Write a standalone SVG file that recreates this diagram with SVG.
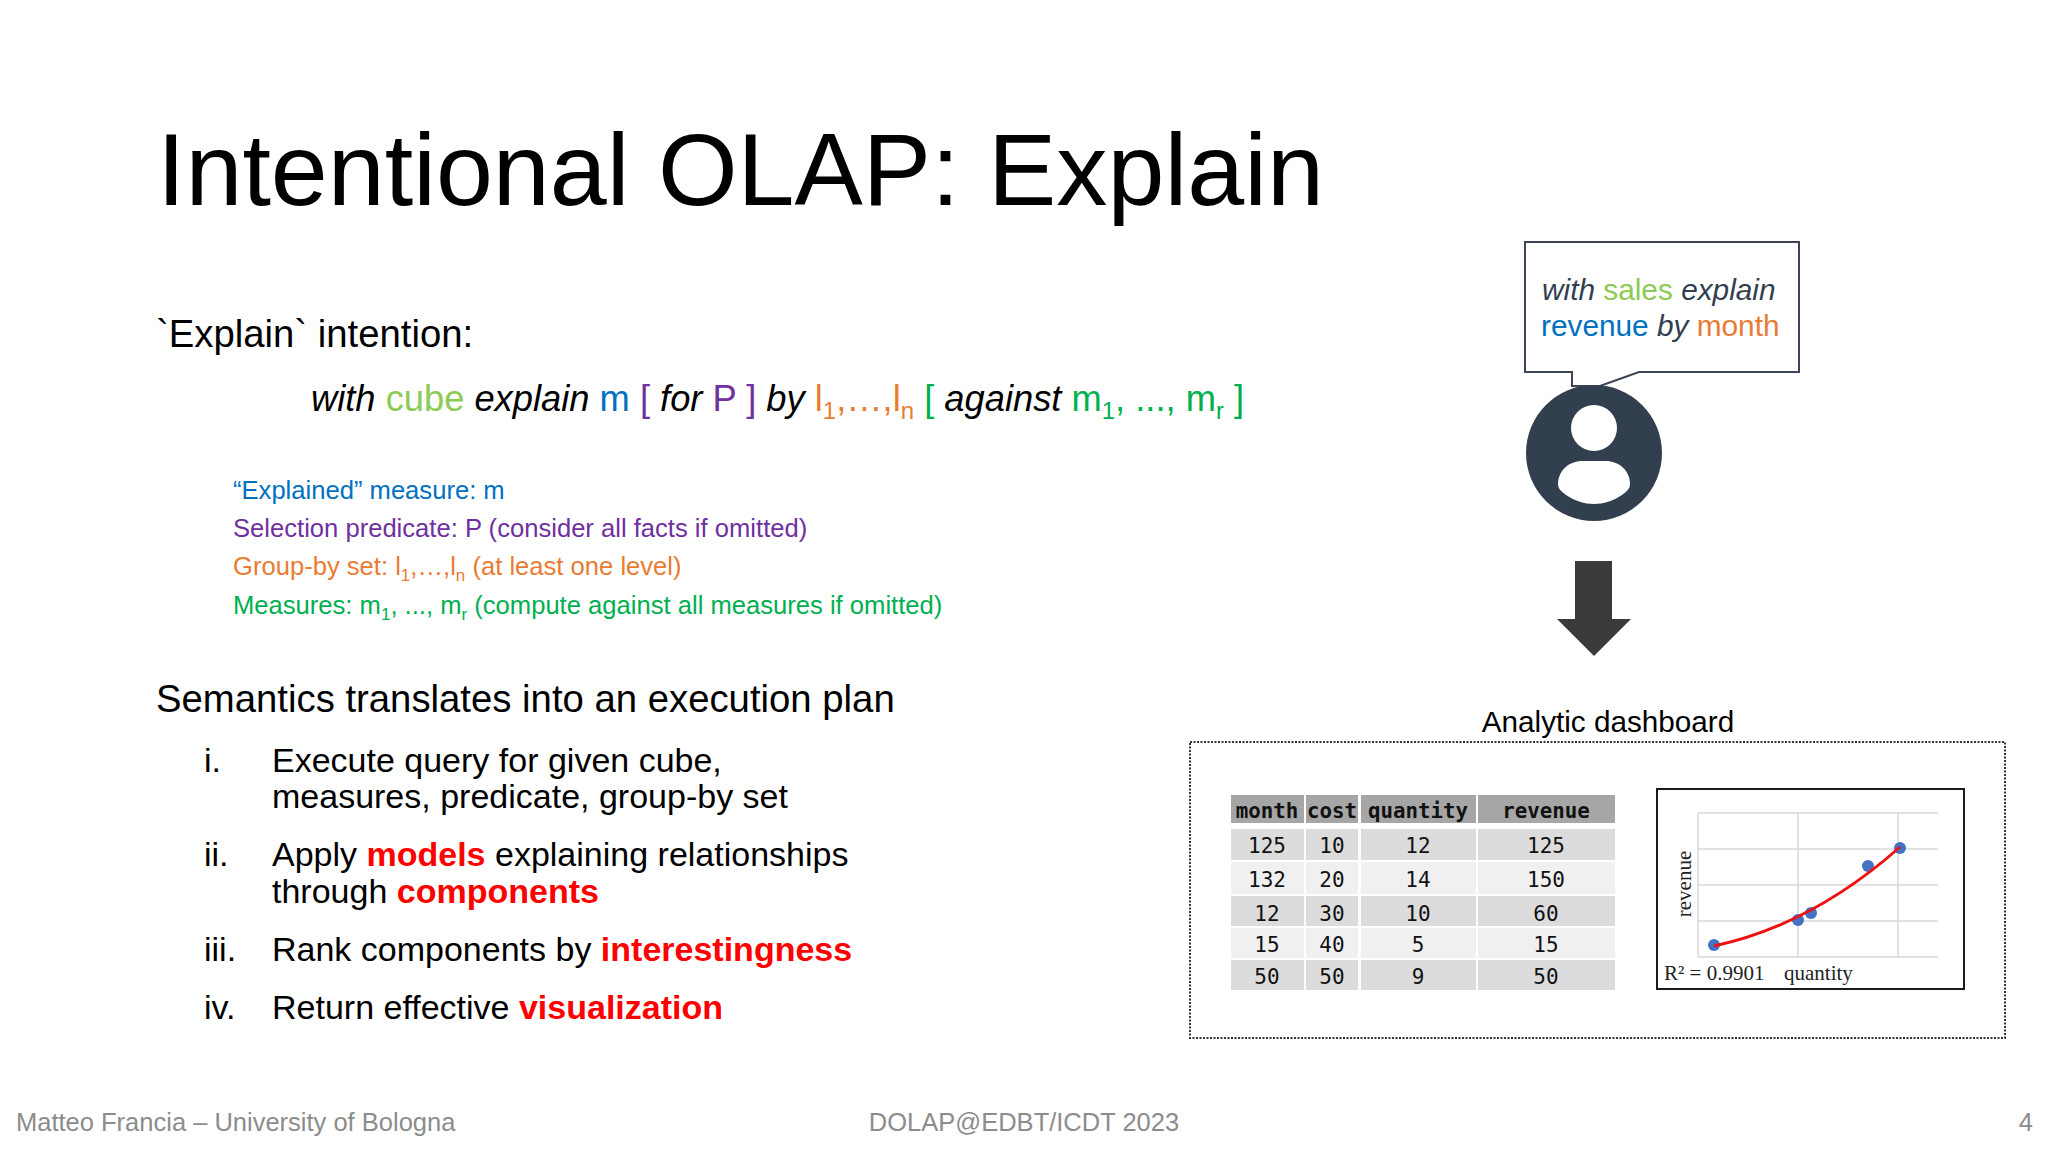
<svg xmlns="http://www.w3.org/2000/svg" width="2048" height="1152" viewBox="0 0 2048 1152">
<style>
text{font-family:"Liberation Sans",Arial,sans-serif;fill:#000}
.i{font-style:italic}
.cu{fill:#8ccb55}.bl{fill:#0070c0}.pu{fill:#7030a0}.or{fill:#e97c32}.gr{fill:#00b050}
.re{fill:#ff0000;font-weight:bold}
.b{font-size:38.3px}
.f{font-size:36.3px}
.l{font-size:34px}
.lg{font-size:25.6px}
.ft{font-size:25.5px;fill:#8c8c8c}
.hd{fill:#a6a6a6}.r1{fill:#dcdcdd}.r2{fill:#f0f0f1}
.t{font-family:"DejaVu Sans Mono","Liberation Mono",monospace;font-size:21px;text-anchor:middle;fill:#111}
.th{font-weight:bold;font-size:20.8px}
.g{stroke:#d9d9de;stroke-width:1.5;fill:none}
.p{fill:#4472c4}
.se{font-family:"Liberation Serif","Times New Roman",serif;font-size:21px;fill:#222}
</style>
<rect width="2048" height="1152" fill="#ffffff"/>
<g id="title"><text x="157" y="205" font-size="102.4">Intentional OLAP: Explain</text></g>
<g id="intention">
<text class="b" x="156" y="347">`Explain` intention:</text>
<text class="f" x="311" y="411"><tspan class="i">with </tspan><tspan class="cu">cube </tspan><tspan class="i">explain </tspan><tspan class="bl">m </tspan><tspan class="pu">[ </tspan><tspan class="i">for </tspan><tspan class="pu">P ] </tspan><tspan class="i">by </tspan><tspan class="or">l<tspan font-size="24" dy="8">1</tspan><tspan dy="-8">,…,l</tspan><tspan font-size="24" dy="8">n</tspan></tspan><tspan dy="-8"> </tspan><tspan class="gr">[ </tspan><tspan class="i">against </tspan><tspan class="gr">m<tspan font-size="24" dy="8">1</tspan><tspan dy="-8">, ..., m</tspan><tspan font-size="24" dy="8">r</tspan><tspan dy="-8"> ]</tspan></tspan></text>
</g>
<g id="legend">
<text class="lg bl" x="233" y="499">“Explained” measure: m</text>
<text class="lg pu" x="233" y="537">Selection predicate: P (consider all facts if omitted)</text>
<text class="lg or" x="233" y="575">Group-by set: l<tspan font-size="17" dy="6">1</tspan><tspan dy="-6">,…,l</tspan><tspan font-size="17" dy="6">n</tspan><tspan dy="-6"> (at least one level)</tspan></text>
<text class="lg gr" x="233" y="614">Measures: m<tspan font-size="17" dy="6">1</tspan><tspan dy="-6">, ..., m</tspan><tspan font-size="17" dy="6">r</tspan><tspan dy="-6"> (compute against all measures if omitted)</tspan></text>
</g>
<g id="semantics">
<text class="b" x="156" y="712">Semantics translates into an execution plan</text>
<text class="l" x="204" y="772">i.</text>
<text class="l" x="272" y="772">Execute query for given cube,</text>
<text class="l" x="272" y="808">measures, predicate, group-by set</text>
<text class="l" x="204" y="866">ii.</text>
<text class="l" x="272" y="866">Apply <tspan class="re">models</tspan> explaining relationships</text>
<text class="l" x="272" y="903">through <tspan class="re">components</tspan></text>
<text class="l" x="204" y="961">iii.</text>
<text class="l" x="272" y="961">Rank components by <tspan class="re">interestingness</tspan></text>
<text class="l" x="204" y="1019">iv.</text>
<text class="l" x="272" y="1019">Return effective <tspan class="re">visualization</tspan></text>
</g>
<g id="callout">
<path d="M1525 242H1799V372H1639L1600 386H1572V372H1525Z" fill="#fff" stroke="#3d4458" stroke-width="2"/>
<text x="1542" y="300" font-size="29.8" fill="#333f50"><tspan class="i" fill="#333f50">with </tspan><tspan class="cu">sales </tspan><tspan class="i" fill="#333f50">explain</tspan></text>
<text x="1541" y="336" font-size="29.8"><tspan class="bl">revenue </tspan><tspan class="i" fill="#333f50">by </tspan><tspan class="or">month</tspan></text>
</g>
<g id="user">
<circle cx="1594" cy="453" r="68" fill="#323f4f"/>
<circle cx="1594" cy="428" r="23" fill="#fff"/>
<path d="M1558 484C1558 470 1570 461 1582 461H1606C1618 461 1630 470 1630 484C1630 489 1626 492 1622 495C1604 507 1584 507 1566 495C1562 492 1558 489 1558 484Z" fill="#fff"/>
</g>
<g id="connectors">
<path d="M1575 561H1612V619H1631L1594 656L1557 619H1575Z" fill="#3a3a3c"/>
</g>
<g id="dashboard">
<text x="1608" y="732" font-size="29.7" text-anchor="middle">Analytic dashboard</text>
<rect x="1190" y="742" width="815" height="296" fill="none" stroke="#333" stroke-width="2" stroke-dasharray="2 1.5"/>
</g>
<g id="table">
<rect class="hd" x="1231" y="795" width="73" height="28"/><rect class="hd" x="1306" y="795" width="52" height="28"/><rect class="hd" x="1361" y="795" width="115" height="28"/><rect class="hd" x="1478" y="795" width="137" height="28"/>
<rect class="r1" x="1231" y="829" width="73" height="31"/><rect class="r1" x="1306" y="829" width="52" height="31"/><rect class="r1" x="1361" y="829" width="115" height="31"/><rect class="r1" x="1478" y="829" width="137" height="31"/>
<rect class="r2" x="1231" y="862" width="73" height="32"/><rect class="r2" x="1306" y="862" width="52" height="32"/><rect class="r2" x="1361" y="862" width="115" height="32"/><rect class="r2" x="1478" y="862" width="137" height="32"/>
<rect class="r1" x="1231" y="896" width="73" height="30"/><rect class="r1" x="1306" y="896" width="52" height="30"/><rect class="r1" x="1361" y="896" width="115" height="30"/><rect class="r1" x="1478" y="896" width="137" height="30"/>
<rect class="r2" x="1231" y="928" width="73" height="30"/><rect class="r2" x="1306" y="928" width="52" height="30"/><rect class="r2" x="1361" y="928" width="115" height="30"/><rect class="r2" x="1478" y="928" width="137" height="30"/>
<rect class="r1" x="1231" y="960" width="73" height="30"/><rect class="r1" x="1306" y="960" width="52" height="30"/><rect class="r1" x="1361" y="960" width="115" height="30"/><rect class="r1" x="1478" y="960" width="137" height="30"/>
<text class="t th" x="1267" y="818">month</text><text class="t th" x="1332" y="818">cost</text><text class="t th" x="1418" y="818">quantity</text><text class="t th" x="1546" y="818">revenue</text>
<text class="t" x="1267" y="853">125</text><text class="t" x="1332" y="853">10</text><text class="t" x="1418" y="853">12</text><text class="t" x="1546" y="853">125</text>
<text class="t" x="1267" y="887">132</text><text class="t" x="1332" y="887">20</text><text class="t" x="1418" y="887">14</text><text class="t" x="1546" y="887">150</text>
<text class="t" x="1267" y="921">12</text><text class="t" x="1332" y="921">30</text><text class="t" x="1418" y="921">10</text><text class="t" x="1546" y="921">60</text>
<text class="t" x="1267" y="952">15</text><text class="t" x="1332" y="952">40</text><text class="t" x="1418" y="952">5</text><text class="t" x="1546" y="952">15</text>
<text class="t" x="1267" y="984">50</text><text class="t" x="1332" y="984">50</text><text class="t" x="1418" y="984">9</text><text class="t" x="1546" y="984">50</text>
</g>
<g id="chart">
<rect x="1657" y="789" width="307" height="200" fill="#fff" stroke="#1a1a1a" stroke-width="2"/>
<path class="g" d="M1698 813H1938M1698 849H1938M1698 885H1938M1698 921H1938M1698 957H1938M1698 813V957M1798 813V957M1898 813V957"/>
<circle class="p" cx="1714" cy="945" r="6"/><circle class="p" cx="1798" cy="920" r="6"/><circle class="p" cx="1811" cy="913" r="6"/><circle class="p" cx="1868" cy="866" r="6"/><circle class="p" cx="1900" cy="848" r="6"/>
<path d="M1714 946Q1812 925 1900 847" fill="none" stroke="#ee1111" stroke-width="3"/>
<text class="se" x="1664" y="980">R² = 0.9901</text>
<text class="se" x="1784" y="980">quantity</text>
<text class="se" transform="translate(1691 884) rotate(-90)" text-anchor="middle">revenue</text>
</g>
<g id="footer">
<text class="ft" x="16" y="1131">Matteo Francia – University of Bologna</text>
<text class="ft" x="1024" y="1131" text-anchor="middle">DOLAP@EDBT/ICDT 2023</text>
<text class="ft" x="2033" y="1131" text-anchor="end">4</text>
</g>
</svg>
